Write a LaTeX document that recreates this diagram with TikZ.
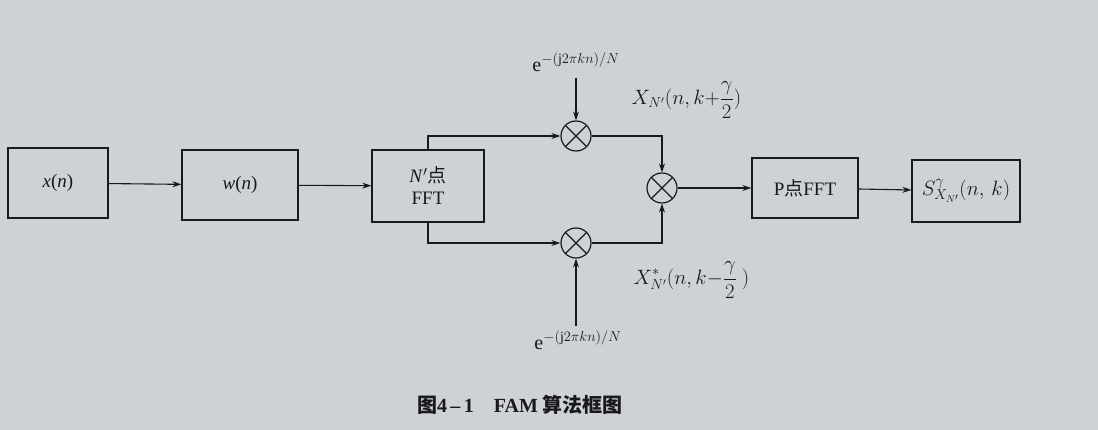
\documentclass[tikz,border=0pt]{standalone}
\usepackage{fontspec}
\setmainfont{Liberation Serif}
\newfontfamily\cjk{Noto Sans CJK SC}
\usetikzlibrary{arrows.meta}
\definecolor{paper}{RGB}{206,209,214}
\definecolor{ink}{RGB}{25,25,28}
\begin{document}
\begin{tikzpicture}[x=1pt,y=-1pt,
  blk/.style={draw=ink,line width=1.2pt,minimum height=70pt,font=\fontsize{19}{22}\selectfont,text=ink},
  mul/.style={draw=ink,line width=1.2pt,circle,minimum size=30pt,inner sep=0pt,
    path picture={\draw[ink,line width=1.1pt] (path picture bounding box.north west)--(path picture bounding box.south east)
      (path picture bounding box.north east)--(path picture bounding box.south west);}},
  arr/.style={draw=ink,line width=1.1pt,-{Stealth[length=9pt,width=6pt]}},
  lab/.style={text=ink,font=\fontsize{20}{22}\selectfont}]
\fill[paper] (0,0) rectangle (1098,430);
\useasboundingbox (0,0) rectangle (1098,430);
\node[blk,minimum width=100pt] (x) at (58,183) {\textit{x}(\textit{n})};
\node[blk,minimum width=116pt] (w) at (240,185) {\textit{w}(\textit{n})};
\node[blk,minimum width=112pt,minimum height=72pt,align=center] (f) at (428,186) {\textit{N}$'${\cjk 点}\\FFT};
\node[mul] (m1) at (576,136) {};
\node[mul] (m2) at (576,243) {};
\node[mul] (m3) at (662,188) {};
\node[blk,minimum width=106pt,minimum height=60pt] (p) at (805,188) {P{\cjk 点}FFT};
\node[blk,minimum width=108pt,minimum height=62pt,font=\fontsize{20}{22}\selectfont] (s) at (966,191) {$S^{\gamma}_{X_{N'}}(n,\,k)$};
\coordinate (e1) at (576,78);
\coordinate (e2) at (576,326);
\node[lab] (t1) at (576,62) {e$^{-(\mathrm{j}2\pi kn)/N}$};
\node[lab] (t2) at (578,340) {e$^{-(\mathrm{j}2\pi kn)/N}$};
\node[lab,anchor=west] (l1) at (628,100) {$\displaystyle X_{N'}\Bigl(n,k{+}\frac{\gamma}{2}\Bigr)$};
\node[lab,anchor=west] (l2) at (630,280) {$\displaystyle X^{*}_{N'}\Bigl(n,k{-}\frac{\gamma}{2}\ \Bigr)$};
\draw[arr] (x) -- (w);
\draw[arr] (w) -- (f);
\draw[arr] (f.north) |- (m1);
\draw[arr] (f.south) |- (m2);
\draw[arr] (m1) -| (m3);
\draw[arr] (m2) -| (m3);
\draw[arr] (e1) -- (m1);
\draw[arr] (e2) -- (m2);
\draw[arr] (m3) -- (p);
\draw[arr] (p) -- (s);
\node[text=ink,font=\fontsize{20}{22}\selectfont\bfseries] (cap) at (520,405) {{\cjk 图}4\,--\,1\quad FAM {\cjk 算法框图}};
\end{tikzpicture}
\end{document}
